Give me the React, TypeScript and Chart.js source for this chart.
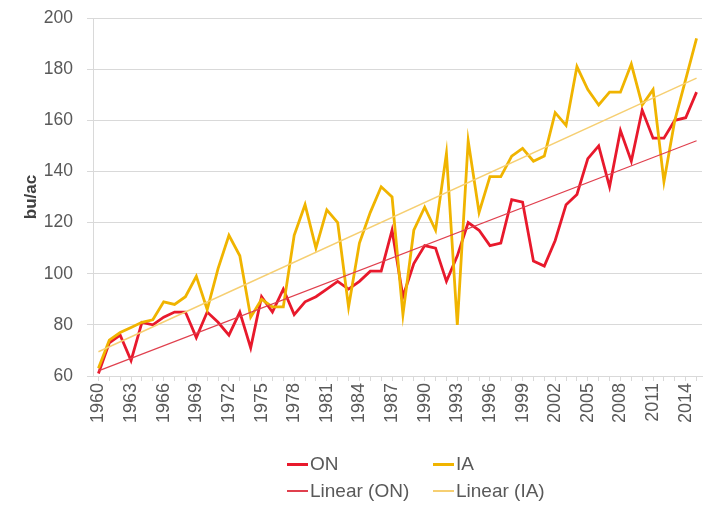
import React, { useEffect, useRef } from "react";
import { Chart, registerables } from "chart.js";

Chart.register(...registerables);

const years = [
  "1960", "1961", "1962", "1963", "1964", "1965", "1966", "1967", "1968", "1969",
  "1970", "1971", "1972", "1973", "1974", "1975", "1976", "1977", "1978", "1979",
  "1980", "1981", "1982", "1983", "1984", "1985", "1986", "1987", "1988", "1989",
  "1990", "1991", "1992", "1993", "1994", "1995", "1996", "1997", "1998", "1999",
  "2000", "2001", "2002", "2003", "2004", "2005", "2006", "2007", "2008", "2009",
  "2010", "2011", "2012", "2013", "2014", "2015",
];

const onYield = [
  61, 73, 76, 66, 81, 80, 83, 85, 85, 75,
  85, 81, 76, 85, 71, 91, 85, 94, 84, 89,
  91, 94, 97, 94, 97, 101, 101, 117, 91, 104,
  111, 110, 97, 107, 120, 117, 111, 112, 129, 128,
  105, 103, 113, 127, 131, 145, 150, 134, 156, 144,
  164, 153, 153, 160, 161, 171,
];

const iaYield = [
  63, 74, 77, 79, 81, 82, 89, 88, 91, 99,
  86, 102, 115, 107, 83, 90, 87, 87, 115, 127,
  110, 125, 120, 87, 112, 124, 134, 130, 84, 117,
  126, 117, 147, 80, 152, 124, 138, 138, 146, 149,
  144, 146, 163, 158, 181, 172, 166, 171, 171, 182,
  166, 172, 136, 160, 176, 192,
];

// trend line values read at first and last year
const onTrendEnds = [62, 152];
const iaTrendEnds = [69.5, 176.5];

const yMin = 60;
const yMax = 200;
const yStep = 20;
const labelEvery = 3;

const ON_COLOR = "#e8192c";
const IA_COLOR = "#f0b400";
const ON_TREND = "#e0404e";
const IA_TREND = "#f6cf72";
const TEXT = "#595959";
const GRID = "#d9d9d9";
const FONT = "'Liberation Sans', Arial, sans-serif";

function endsToSeries(ends: number[], n: number): (number | null)[] {
  const arr: (number | null)[] = new Array(n).fill(null);
  arr[0] = ends[0];
  arr[n - 1] = ends[1];
  return arr;
}

const legendItems = [
  { label: "ON", color: ON_COLOR, width: 3 },
  { label: "IA", color: IA_COLOR, width: 3 },
  { label: "Linear (ON)", color: ON_TREND, width: 1.5 },
  { label: "Linear (IA)", color: IA_TREND, width: 1.5 },
];

export default function App() {
  const ref = useRef<HTMLCanvasElement | null>(null);

  useEffect(() => {
    if (!ref.current) return;
    const n = years.length;
    const chart = new Chart(ref.current, {
      type: "line",
      data: {
        labels: years,
        datasets: [
          {
            label: "Linear (ON)",
            data: endsToSeries(onTrendEnds, n),
            borderColor: ON_TREND,
            borderWidth: 1.2,
            pointRadius: 0,
            spanGaps: true,
            order: 0,
          },
          {
            label: "Linear (IA)",
            data: endsToSeries(iaTrendEnds, n),
            borderColor: IA_TREND,
            borderWidth: 1.5,
            pointRadius: 0,
            spanGaps: true,
            order: 0,
          },
          {
            label: "IA",
            data: iaYield,
            borderColor: IA_COLOR,
            borderWidth: 2.8,
            pointRadius: 0,
            tension: 0,
            order: 1,
          },
          {
            label: "ON",
            data: onYield,
            borderColor: ON_COLOR,
            borderWidth: 2.8,
            pointRadius: 0,
            tension: 0,
            order: 2,
          },
        ],
      },
      options: {
        animation: false,
        responsive: false,
        maintainAspectRatio: false,
        layout: { padding: { top: 18, right: 6, bottom: 70, left: 0 } },
        plugins: {
          legend: { display: false },
          tooltip: { enabled: false },
        },
        scales: {
          x: {
            type: "category",
            offset: true,
            afterFit: (s: any) => {
              s.height = 60;
              s.paddingLeft = 0;
              s.paddingRight = 0;
            },
            grid: {
              drawOnChartArea: false,
              drawTicks: true,
              tickLength: 5,
              color: GRID,
            },
            border: { display: true, color: GRID, width: 1 },
            ticks: {
              autoSkip: false,
              maxRotation: 90,
              minRotation: 90,
              padding: 2,
              color: TEXT,
              font: { family: FONT, size: 18 },
              callback: (_v: any, i: number) => (i % labelEvery === 0 ? years[i] : ""),
            },
          },
          y: {
            min: yMin,
            max: yMax,
            afterFit: (s: any) => {
              s.width = 93;
              s.paddingTop = 0;
              s.paddingBottom = 0;
            },
            grid: {
              color: GRID,
              lineWidth: 1,
              drawTicks: true,
              tickLength: 6,
            },
            border: { display: true, color: GRID, width: 1 },
            ticks: {
              stepSize: yStep,
              padding: 14,
              color: TEXT,
              font: { family: FONT, size: 17.5 },
            },
            title: {
              display: true,
              text: "bu/ac",
              color: "#404040",
              font: { family: FONT, size: 17, weight: "bold" },
              padding: { top: 21, bottom: 0 },
            },
          },
        },
      },
    });
    return () => chart.destroy();
  }, []);

  return (
    <div style={{ position: "absolute", left: 0, top: 0, width: 708, height: 506, background: "#fff" }}>
      <canvas ref={ref} width={708} height={506} style={{ display: "block" }} />
      <div
        style={{
          position: "absolute",
          left: 287,
          top: 452,
          display: "grid",
          gridTemplateColumns: "146px 140px",
          rowGap: 3,
          fontFamily: FONT,
          fontSize: 19,
          color: TEXT,
        }}
      >
        {legendItems.map((it) => (
          <div key={it.label} style={{ display: "flex", alignItems: "center", height: 24 }}>
            <span
              style={{
                display: "inline-block",
                width: 21,
                height: it.width,
                background: it.color,
                marginRight: 2,
              }}
            />
            <span>{it.label}</span>
          </div>
        ))}
      </div>
    </div>
  );
}
